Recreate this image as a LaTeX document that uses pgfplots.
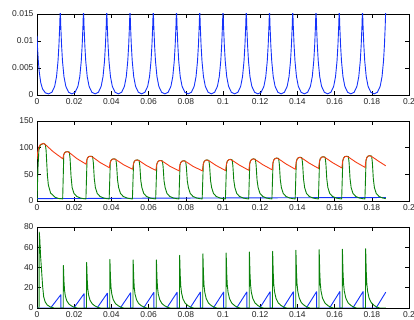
\documentclass[border=0pt]{standalone}
\usepackage{pgfplots}
\pgfplotsset{compat=1.18}
\usepackage{fontspec}
\setmainfont{Liberation Sans}
\definecolor{mblue}{RGB}{20,50,250}
\definecolor{mred}{RGB}{245,60,20}
\definecolor{mgreen}{RGB}{10,130,10}
\pgfplotsset{
 mystyle/.style={
  scale only axis, width=372pt, height=81pt,
  anchor=south west,
  xmin=0, xmax=0.2,
  scaled x ticks=false, scaled y ticks=false,
  xtick={0,0.02,0.04,0.06,0.08,0.1,0.12,0.14,0.16,0.18,0.2},
  xticklabels={0,0.02,0.04,0.06,0.08,0.1,0.12,0.14,0.16,0.18,0.2},
  tick align=inside, major tick length=4pt,
  tick style={black, line width=0.5pt},
  axis line style={black, line width=0.8pt},
  ticklabel style={font=\fontsize{8.5}{10}\selectfont, text=black!85},
  /pgf/number format/assume math mode=true,
  every axis plot/.append style={line width=0.9pt, line join=round, mark=none},
 }
}
\begin{document}
\begin{tikzpicture}
% ---------------- top axis ----------------
\begin{axis}[mystyle, at={(37pt,225pt)},
  ymin=0, ymax=0.015, ytick={0,0.005,0.01,0.015}, yticklabels={0,0.005,0.01,0.015}]
\addplot[mblue] coordinates {
(0,0.0110) (0.0003,0.0087) (0.0007,0.0064) (0.0012,0.0043) (0.002,0.0023) (0.003,0.0011) (0.0045,0.0004) (0.00625,0.0002) (0.008,0.0005) (0.0095,0.0016) (0.0105,0.0034) (0.0113,0.0063) (0.0118,0.0093) (0.0122,0.0127)
(.0125,.016) (.0128,.0127) (.0132,.0093) (.0137,.0063) (.0145,.0034) (.0155,.0016) (.017,.0005) (.01875,.0002) (.0205,.0005) (.022,.0016) (.023,.0034) (.0238,.0063) (.0243,.0093) (.0247,.0127)
(.025,.016) (.0253,.0127) (.0257,.0093) (.0262,.0063) (.027,.0034) (.028,.0016) (.0295,.0005) (.03125,.0002) (.033,.0005) (.0345,.0016) (.0355,.0034) (.0363,.0063) (.0368,.0093) (.0372,.0127)
(.0375,.016) (.0378,.0127) (.0382,.0093) (.0387,.0063) (.0395,.0034) (.0405,.0016) (.042,.0005) (.04375,.0002) (.0455,.0005) (.047,.0016) (.048,.0034) (.0488,.0063) (.0493,.0093) (.0497,.0127)
(.05,.016) (.0503,.0127) (.0507,.0093) (.0512,.0063) (.052,.0034) (.053,.0016) (.0545,.0005) (.05625,.0002) (.058,.0005) (.0595,.0016) (.0605,.0034) (.0613,.0063) (.0618,.0093) (.0622,.0127)
(.0625,.016) (.0628,.0127) (.0632,.0093) (.0637,.0063) (.0645,.0034) (.0655,.0016) (.067,.0005) (.06875,.0002) (.0705,.0005) (.072,.0016) (.073,.0034) (.0738,.0063) (.0743,.0093) (.0747,.0127)
(.075,.016) (.0753,.0127) (.0757,.0093) (.0762,.0063) (.077,.0034) (.078,.0016) (.0795,.0005) (.08125,.0002) (.083,.0005) (.0845,.0016) (.0855,.0034) (.0863,.0063) (.0868,.0093) (.0872,.0127)
(.0875,.016) (.0878,.0127) (.0882,.0093) (.0887,.0063) (.0895,.0034) (.0905,.0016) (.092,.0005) (.09375,.0002) (.0955,.0005) (.097,.0016) (.098,.0034) (.0988,.0063) (.0993,.0093) (.0997,.0127)
(.1,.016) (.1003,.0127) (.1007,.0093) (.1012,.0063) (.102,.0034) (.103,.0016) (.1045,.0005) (.10625,.0002) (.108,.0005) (.1095,.0016) (.1105,.0034) (.1113,.0063) (.1118,.0093) (.1122,.0127)
(.1125,.016) (.1128,.0127) (.1132,.0093) (.1137,.0063) (.1145,.0034) (.1155,.0016) (.117,.0005) (.11875,.0002) (.1205,.0005) (.122,.0016) (.123,.0034) (.1238,.0063) (.1243,.0093) (.1247,.0127)
(.125,.016) (.1253,.0127) (.1257,.0093) (.1262,.0063) (.127,.0034) (.128,.0016) (.1295,.0005) (.13125,.0002) (.133,.0005) (.1345,.0016) (.1355,.0034) (.1363,.0063) (.1368,.0093) (.1372,.0127)
(.1375,.016) (.1378,.0127) (.1382,.0093) (.1387,.0063) (.1395,.0034) (.1405,.0016) (.142,.0005) (.14375,.0002) (.1455,.0005) (.147,.0016) (.148,.0034) (.1488,.0063) (.1493,.0093) (.1497,.0127)
(.15,.016) (.1503,.0127) (.1507,.0093) (.1512,.0063) (.152,.0034) (.153,.0016) (.1545,.0005) (.15625,.0002) (.158,.0005) (.1595,.0016) (.1605,.0034) (.1613,.0063) (.1618,.0093) (.1622,.0127)
(.1625,.016) (.1628,.0127) (.1632,.0093) (.1637,.0063) (.1645,.0034) (.1655,.0016) (.167,.0005) (.16875,.0002) (.1705,.0005) (.172,.0016) (.173,.0034) (.1738,.0063) (.1743,.0093) (.1747,.0127)
(.175,.016) (.1753,.0127) (.1757,.0093) (.1762,.0063) (.177,.0034) (.178,.0016) (.1795,.0005) (.18125,.0002) (.183,.0005) (.1845,.0016) (.1855,.0034) (.1863,.0063) (.1868,.0093) (.1872,.0127)
(.1875,.016)
};
\end{axis}
% ---------------- middle axis ----------------
\begin{axis}[mystyle, at={(37pt,119pt)}, height=80pt,
  ymin=0, ymax=150, ytick={0,50,100,150}, yticklabels={0,50,100,150}]
\addplot[mblue] coordinates {(0,4.5) (0.03,4.8) (0.06,5.3) (0.09,5.6) (0.12,5.9) (0.15,6.2) (0.1875,6.5)};
\addplot[mgreen] coordinates {
(0,0) (0.0005,60) (0.001,95) (0.0018,105) (0.0035,108) (0.0045,106) (0.0049,95) (0.0052,74) (0.0056,48) (0.0061,30) (0.0073,15) (0.0097,7) (0.0118,4.6)
(.0138,4) (.0144,87.1) (.0148,90.2) (.0155,92.0) (.0164,92.5) (.0174,91.7) (.0178,78.6) (.0183,46.3) (.0189,25) (.0199,14) (.0214,8.5) (.0234,5.5) (.0254,4.2)
(.0263,4) (.0269,78) (.0273,81.5) (.028,83.4) (.0289,84) (.0299,83.2) (.0303,71.4) (.0308,42) (.0314,25) (.0324,14) (.0339,8.5) (.0359,5.5) (.0379,4.2)
(.0388,4) (.0394,72.4) (.0398,76.2) (.0405,78.3) (.0414,79) (.0424,78.2) (.0428,67.2) (.0433,39.5) (.0439,25) (.0449,14) (.0464,8.5) (.0484,5.5) (.0504,4.2)
(.0513,4) (.0519,70) (.0523,74) (.053,76.3) (.0539,77) (.0549,76.2) (.0553,65.5) (.0558,38.5) (.0564,25) (.0574,14) (.0589,8.5) (.0609,5.5) (.0629,4.2)
(.0638,4) (.0644,68.6) (.0648,72.9) (.0655,75.3) (.0664,76) (.0674,75.2) (.0678,64.6) (.0683,38) (.0689,25) (.0699,14) (.0714,8.5) (.0734,5.5) (.0754,4.2)
(.0763,4) (.0769,67.9) (.0773,72.3) (.078,74.7) (.0789,75.5) (.0799,74.7) (.0803,64.2) (.0808,37.8) (.0814,25) (.0824,14) (.0839,8.5) (.0859,5.5) (.0879,4.2)
(.0888,4) (.0894,68.8) (.0898,73.5) (.0905,76.2) (.0914,77) (.0924,76.2) (.0928,65.5) (.0933,38.5) (.0939,25) (.0949,14) (.0964,8.5) (.0984,5.5) (.1004,4.2)
(.1013,4) (.1019,69.6) (.1023,74.4) (.103,77.2) (.1039,78) (.1049,77.2) (.1053,66.3) (.1058,39) (.1064,25) (.1074,14) (.1089,8.5) (.1109,5.5) (.1129,4.2)
(.1138,4) (.1144,70.4) (.1148,75.3) (.1155,78.1) (.1164,79) (.1174,78.2) (.1178,67.2) (.1183,39.5) (.1189,25) (.1199,14) (.1214,8.5) (.1234,5.5) (.1254,4.2)
(.1263,4) (.1269,71.7) (.1273,76.8) (.128,79.6) (.1289,80.5) (.1299,79.7) (.1303,68.4) (.1308,40.3) (.1314,25) (.1324,14) (.1339,8.5) (.1359,5.5) (.1379,4.2)
(.1388,4) (.1394,73) (.1398,78.2) (.1405,81.1) (.1414,82) (.1424,81.2) (.1428,69.7) (.1433,41) (.1439,25) (.1449,14) (.1464,8.5) (.1484,5.5) (.1504,4.2)
(.1513,4) (.1519,74.2) (.1523,79.3) (.153,82.1) (.1539,83) (.1549,82.2) (.1553,70.6) (.1558,41.5) (.1564,25) (.1574,14) (.1589,8.5) (.1609,5.5) (.1629,4.2)
(.1638,4) (.1644,75.2) (.1648,80.3) (.1655,83.1) (.1664,84) (.1674,83.2) (.1678,71.4) (.1683,42) (.1689,25) (.1699,14) (.1714,8.5) (.1734,5.5) (.1754,4.2)
(.1763,4) (.1769,76.2) (.1773,81.3) (.178,84.1) (.1789,85) (.1799,84.2) (.1803,72.3) (.1808,42.5) (.1814,25) (.1824,14) (.1839,8.5) (.1859,5.5) (.1875,4.5)
};
\addplot[mred] coordinates {
(0,78) (0.0004,92) (0.001,101) (0.0018,106) (0.0035,108) (0.005,104.2) (0.0085,93)
(.0139,79) (.0143,86.4) (.0148,90.2) (.0155,92.0) (.0164,92.5) (.0179,89.4) (.0214,79.6)
(.0264,69) (.0268,77.3) (.0273,81.5) (.028,83.4) (.0289,84) (.0304,81.2) (.0339,72.2)
(.0389,62.5) (.0393,71.6) (.0398,76.2) (.0405,78.3) (.0414,79) (.0429,76.5) (.0464,68.3)
(.0514,59.5) (.0518,69.1) (.0523,74.0) (.053,76.3) (.0539,77) (.0554,74.5) (.0589,66.3)
(.0639,57.5) (.0643,67.7) (.0648,72.9) (.0655,75.3) (.0664,76) (.0679,73.5) (.0714,65.3)
(.0764,56.5) (.0768,67.0) (.0773,72.3) (.078,74.7) (.0789,75.5) (.0804,73.0) (.0839,65.0)
(.0889,56.5) (.0893,67.8) (.0898,73.5) (.0905,76.2) (.0914,77) (.0929,74.4) (.0964,66.4)
(.1014,57) (.1018,68.6) (.1023,74.4) (.103,77.2) (.1039,78) (.1054,75.3) (.1089,67.1)
(.1139,57.5) (.1143,69.3) (.1148,75.3) (.1155,78.1) (.1164,79) (.1179,76.3) (.1214,68.1)
(.1264,58.5) (.1268,70.6) (.1273,76.8) (.128,79.6) (.1289,80.5) (.1304,77.8) (.1339,69.4)
(.1389,59.5) (.1393,71.9) (.1398,78.2) (.1405,81.1) (.1414,82) (.1429,79.3) (.1464,70.9)
(.1514,61) (.1518,73.1) (.1523,79.3) (.153,82.1) (.1539,83) (.1554,80.3) (.1589,71.9)
(.1639,62) (.1643,74.1) (.1648,80.3) (.1655,83.1) (.1664,84) (.1679,81.3) (.1714,72.9)
(.1764,63) (.1768,75.1) (.1773,81.3) (.178,84.1) (.1789,85) (.1804,82.3) (.1839,74)
(.1875,66)
};
\end{axis}
% ---------------- bottom axis ----------------
\begin{axis}[mystyle, at={(37pt,12pt)},
  ymin=0, ymax=80, ytick={0,20,40,60,80}, yticklabels={0,20,40,60,80}]
\addplot[mblue] coordinates {
(0,0) (.0073,0) (.0128,13.1) (.0128,0)
(.0198,0) (.0253,14.1) (.0253,0)
(.0323,0) (.0378,14.6) (.0378,0)
(.0448,0) (.0503,15) (.0503,0)
(.0573,0) (.0628,15.4) (.0628,0)
(.0698,0) (.0753,15.5) (.0753,0)
(.0823,0) (.0878,15.7) (.0878,0)
(.0948,0) (.1003,15.7) (.1003,0)
(.1073,0) (.1128,15.8) (.1128,0)
(.1198,0) (.1253,16) (.1253,0)
(.1323,0) (.1378,16) (.1378,0)
(.1448,0) (.1503,16.1) (.1503,0)
(.1573,0) (.1628,16.2) (.1628,0)
(.1698,0) (.1753,16.2) (.1753,0)
(.1823,0) (.1875,15.6)
};
\addplot[mgreen] coordinates {
(0,0) (.0011,0) (.0012,75) (.0015,68) (.0019,52) (.0025,36) (.003,22) (.0036,11) (.0044,6) (.0055,3) (.0072,1) (.0092,0)
(.0141,0) (.0142,42) (.0143,37.0) (.0145,26.5) (.0148,17.6) (.0152,12.2) (.016,7.1) (.0172,3.8) (.0187,1.9) (.0202,0.6) (.0217,0)
(.0266,0) (.0267,45) (.0268,39.6) (.027,28.4) (.0273,18.9) (.0277,13.1) (.0285,7.7) (.0297,4.1) (.0312,2.0) (.0327,0.7) (.0342,0)
(.0391,0) (.0392,48) (.0393,42.2) (.0395,30.2) (.0398,20.2) (.0402,13.9) (.041,8.2) (.0422,4.3) (.0437,2.2) (.0452,0.7) (.0467,0)
(.0516,0) (.0517,47.5) (.0518,41.8) (.052,29.9) (.0523,20.0) (.0527,13.8) (.0535,8.1) (.0547,4.3) (.0562,2.1) (.0577,0.7) (.0592,0)
(.0641,0) (.0642,47.5) (.0643,41.8) (.0645,29.9) (.0648,20.0) (.0652,13.8) (.066,8.1) (.0672,4.3) (.0687,2.1) (.0702,0.7) (.0717,0)
(.0766,0) (.0767,52) (.0768,45.8) (.077,32.8) (.0773,21.8) (.0777,15.1) (.0785,8.8) (.0797,4.7) (.0812,2.3) (.0827,0.8) (.0842,0)
(.0891,0) (.0892,53.5) (.0893,47.1) (.0895,33.7) (.0898,22.5) (.0902,15.5) (.091,9.1) (.0922,4.8) (.0937,2.4) (.0952,0.8) (.0967,0)
(.1016,0) (.1017,54.3) (.1018,47.8) (.102,34.2) (.1023,22.8) (.1027,15.7) (.1035,9.2) (.1047,4.9) (.1062,2.4) (.1077,0.8) (.1092,0)
(.1141,0) (.1142,55.3) (.1143,48.7) (.1145,34.8) (.1148,23.2) (.1152,16.0) (.116,9.4) (.1172,5.0) (.1187,2.5) (.1202,0.8) (.1217,0)
(.1266,0) (.1267,56) (.1268,49.3) (.127,35.3) (.1273,23.5) (.1277,16.2) (.1285,9.5) (.1297,5.0) (.1312,2.5) (.1327,0.8) (.1342,0)
(.1391,0) (.1392,57) (.1393,50.2) (.1395,35.9) (.1398,23.9) (.1402,16.5) (.141,9.7) (.1422,5.1) (.1437,2.6) (.1452,0.9) (.1467,0)
(.1516,0) (.1517,57.6) (.1518,50.7) (.152,36.3) (.1523,24.2) (.1527,16.7) (.1535,9.8) (.1547,5.2) (.1562,2.6) (.1577,0.9) (.1592,0)
(.1641,0) (.1642,58) (.1643,51.0) (.1645,36.5) (.1648,24.4) (.1652,16.8) (.166,9.9) (.1672,5.2) (.1687,2.6) (.1702,0.9) (.1717,0)
(.1766,0) (.1767,58.5) (.1768,51.5) (.177,36.9) (.1773,24.6) (.1777,17.0) (.1785,9.9) (.1797,5.3) (.1812,2.6) (.1827,0.9) (.1842,0)
(.1875,0)
};
\end{axis}
\pgfresetboundingbox
\path[use as bounding box] (0,0) rectangle (414pt,320pt);
\end{tikzpicture}
\end{document}
